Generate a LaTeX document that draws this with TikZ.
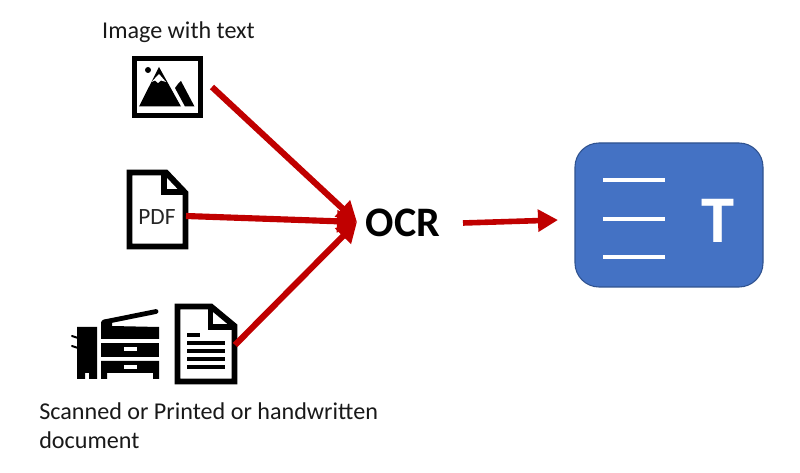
\documentclass[tikz,border=0pt]{standalone}
\usepackage{fontspec}
\setmainfont{Carlito}
\usetikzlibrary{arrows.meta}
\definecolor{arrowred}{HTML}{C00000}
\definecolor{boxblue}{HTML}{4472C4}
\definecolor{boxedge}{HTML}{2F528F}
\tikzset{
  px/.style={x=0.75pt,y=-0.75pt},
  label/.style={font=\fontsize{18.1pt}{22pt}\selectfont,text=black!90,inner sep=0pt},
  flow/.style={draw=arrowred,line width=4.6pt,-{Triangle[length=15pt,width=16pt]}},
  icon/.style={draw=black,line width=4.4pt,fill=white,line join=miter},
  whiteline/.style={draw=white,line width=2.6pt},
  txtline/.style={draw=black,line width=2.8pt},
}
\begin{document}
\begin{tikzpicture}[px]
\useasboundingbox (0,0) rectangle (800,473);
\fill[white] (0,0) rectangle (800,473);

% labels
\node[label,anchor=center] (lblimg) at (178.5,32.5) {Image with text};
\node[label,anchor=north west,align=left] (lbldoc) at (39,402) {Scanned or Printed or handwritten\\document};

% image icon
\draw[icon] (134.5,58.5) rectangle (200.5,115.5);
\fill[black] (139,106.5) -- (159,67) -- (181,106.5) -- cycle;
\fill[white] (151.5,82) -- (159,74) -- (166,82) -- (161,80.5) -- (158,83) -- (155,80.5) -- cycle;
\fill[black] (178,84) -- (181,81) -- (194.5,106.5) -- (185,106.5) -- (175,88) -- cycle;
\fill[black] (148,70) circle (3);

% pdf icon
\draw[icon] (129.5,172.5) -- (166,172.5) -- (185.5,193) -- (185.5,246.5) -- (129.5,246.5) -- cycle;
\draw[draw=black,line width=4.4pt,line join=miter] (164,172.5) -- (164,192) -- (185.5,192);
\node[font=\fontsize{17.5pt}{20pt}\selectfont,text=black!85,inner sep=0pt] (pdf) at (157,217) {PDF};

% scanned document icon
\draw[icon] (177.5,306.5) -- (211,306.5) -- (234.5,326) -- (234.5,381.5) -- (177.5,381.5) -- cycle;
\draw[draw=black,line width=4.4pt,line join=miter] (210.5,306.5) -- (210.5,327) -- (234.5,327);
\draw[txtline] (187,335) -- (200,335);
\foreach \yy in {343,351,359,367} \draw[txtline] (187,\yy) -- (225,\yy);

% printer
\fill[black] (77,327) -- (97,327) -- (97,379) -- (89,379) -- (89,373) -- (85,373) -- (85,379) -- (77,379) -- cycle;
\draw[black,line width=1.5pt,line cap=round] (72,336) -- (78,338);
\draw[black,line width=1.5pt,line cap=round] (72,346) -- (78,348);
\fill[black] (101,322) -- (104,320) -- (112,320) -- (112,326) -- (159,327) -- (159,339) -- (101,339) -- cycle;
\draw[black,line width=3.6pt,line cap=round] (104,322) -- (156,311.5);
\fill[black] (101,343) rectangle (159,357);
\fill[white] (124,347.5) rectangle (137,351.5);
\fill[black] (101,361) -- (159,361) -- (159,379) -- (153,379) -- (153,373) -- (107,373) -- (107,379) -- (101,379) -- cycle;
\fill[white] (124,365) rectangle (137,369);

% named connector ends
\coordinate (imgout) at (212,87);
\coordinate (pdfout) at (186,216);
\coordinate (docout) at (235,345);
\coordinate (ocrin) at (357,222);

% OCR
\node[font=\bfseries\fontsize{31.5pt}{34pt}\selectfont,text=black,inner sep=0pt] (ocr) at (403,223) {OCR};
\coordinate (ocrout) at (463,223);

% output box
\node[draw=boxedge,fill=boxblue,line width=0.8pt,rounded corners=18pt,minimum width=141pt,minimum height=108pt,inner sep=0pt] (box) at (669,215) {};
\coordinate (boxin) at (558,220);
\draw[whiteline] (603,180) -- (665,180);
\draw[whiteline] (603,219) -- (665,219);
\draw[whiteline] (603,257) -- (665,257);
\node[font=\bfseries\fontsize{50pt}{54pt}\selectfont,text=white,inner sep=0pt] (tlabel) at (718,221) {T};

% connectors
\draw[flow] (imgout) -- (ocrin);
\draw[flow] (pdfout) -- (ocrin);
\draw[flow] (docout) -- (ocrin);
\draw[flow,line width=4.2pt] (ocrout) -- (boxin);
\end{tikzpicture}
\end{document}
